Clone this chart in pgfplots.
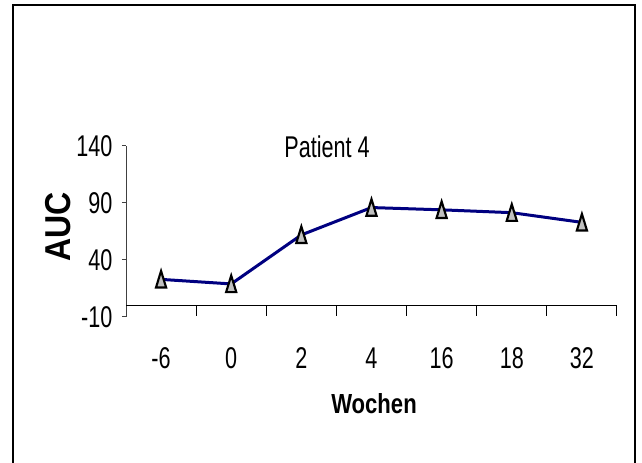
\documentclass[border=0pt]{standalone}
\usepackage{pgfplots}
\pgfplotsset{compat=1.18}
\usepackage{fontspec}
\setmainfont{Liberation Sans}
\newfontfamily\nf[FakeStretch=0.72]{Liberation Sans}
\newfontfamily\nfbw[FakeStretch=0.80]{Liberation Sans}
\newfontfamily\nfba[FakeStretch=0.89]{Liberation Sans}
\definecolor{navy}{HTML}{000080}
\definecolor{markgray}{HTML}{C0C0C0}
\pgfdeclareplotmark{tri}{%
  \pgfpathmoveto{\pgfqpoint{0pt}{6.3pt}}%
  \pgfpathlineto{\pgfqpoint{-3.8pt}{-6.1pt}}%
  \pgfpathlineto{\pgfqpoint{3.8pt}{-6.1pt}}%
  \pgfpathclose
  \pgfusepathqfillstroke}
\pgfplotstableread{
idx val
0 23
1 19
2 62
3 86
4 84
5 81.5
6 73
}\datatable
\begin{document}
\begin{tikzpicture}[x=0.75pt,y=0.75pt]
\useasboundingbox (0,0) rectangle (642,463);
\draw[black, line width=0.9pt] (13,-5) -- (13,458) -- (635,458) -- (635,-5);
\begin{axis}[
  at={(94.5pt,109.5pt)}, anchor=south west,
  scale only axis, width=368.25pt, height=128.25pt,
  xmin=-0.5, xmax=6.5, ymin=-10, ymax=140,
  axis lines*=left,
  x axis line style={draw=none},
  y axis line style={draw=black!75, line width=0.75pt},
  xtick={0,...,6},
  xticklabels={-6,0,2,4,16,18,32},
  major x tick style={draw=none},
  ytick={-10,40,90,140},
  yticklabels={-10,40,90,140},
  ytick pos=left, tick align=outside,
  major tick length=3pt,
  major y tick style={draw=black!75, line width=0.75pt},
  xticklabel style={font=\nf\fontsize{22.5}{26}\selectfont, anchor=base, inner sep=0pt, yshift=-36pt},
  yticklabel style={font=\nf\fontsize{22.5}{26}\selectfont, anchor=base east, inner sep=0pt, xshift=-7pt, yshift=-7.9pt},
  clip=false,
]
\draw[black, line width=0.75pt] (axis cs:-0.5,0) -- (axis cs:6.5,0);
\draw[black, line width=0.75pt] (axis cs:0.5,0) -- (axis cs:0.5,-8.8);
\draw[black, line width=0.75pt] (axis cs:1.5,0) -- (axis cs:1.5,-8.8);
\draw[black, line width=0.75pt] (axis cs:2.5,0) -- (axis cs:2.5,-8.8);
\draw[black, line width=0.75pt] (axis cs:3.5,0) -- (axis cs:3.5,-8.8);
\draw[black, line width=0.75pt] (axis cs:4.5,0) -- (axis cs:4.5,-8.8);
\draw[black, line width=0.75pt] (axis cs:5.5,0) -- (axis cs:5.5,-8.8);
\draw[black, line width=0.75pt] (axis cs:6.5,0) -- (axis cs:6.5,-8.8);
\addplot[navy, line width=2.25pt, mark=tri,
  mark options={fill=markgray, draw=black, line width=1.6pt, solid}]
  table[x=idx, y=val] {\datatable};
\end{axis}
\node[anchor=base, inner sep=0pt, font=\nf\fontsize{22.5}{26}\selectfont] at (327,305) {Patient 4};
\node[anchor=base, inner sep=0pt, rotate=90, font=\nfba\bfseries\fontsize{27}{30}\selectfont] at (70,236) {AUC};
\node[anchor=base, inner sep=0pt, font=\nfbw\bfseries\fontsize{20.7}{24}\selectfont] at (374,49) {Wochen};
\end{tikzpicture}
\end{document}
